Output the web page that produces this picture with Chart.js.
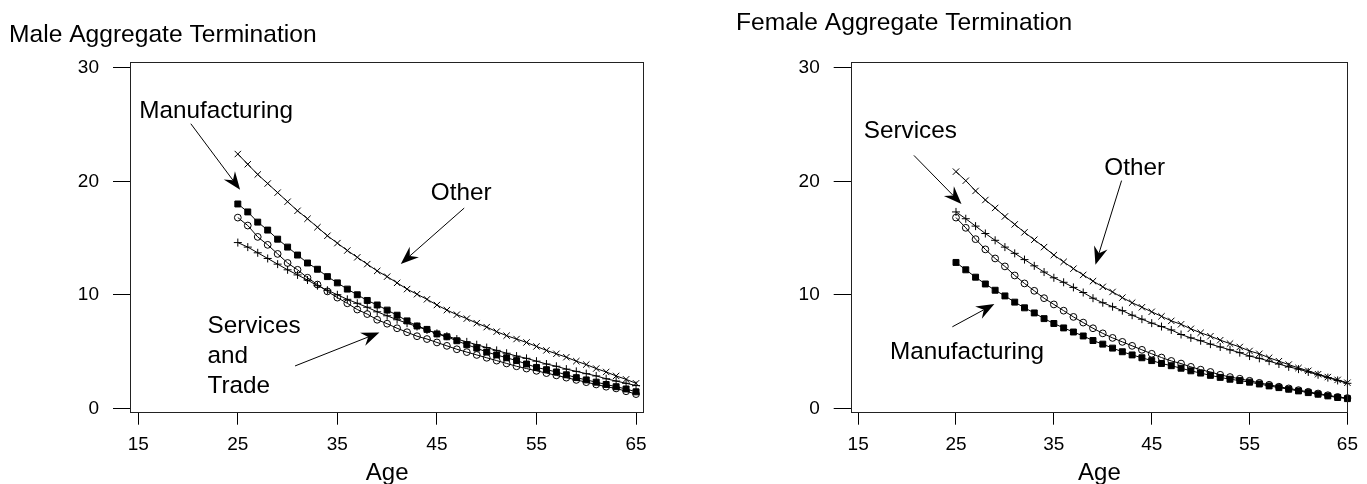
<!DOCTYPE html>
<html><head><meta charset="utf-8">
<script src="https://cdn.jsdelivr.net/npm/chart.js@4.4.1/dist/chart.umd.min.js"></script>
<style>
html,body{margin:0;padding:0;background:#fff;overflow:hidden}
#wrap{position:relative;width:1367px;height:484px;background:#fff}
canvas{position:absolute;top:0}
</style></head><body>
<div id="wrap">
<canvas id="male" width="683" height="484" style="left:0;width:683px;height:484px"></canvas>
<canvas id="female" width="684" height="484" style="left:683px;width:684px;height:484px"></canvas>
</div>
<script>
const FAMILY = '"Liberation Sans", Arial, Helvetica, sans-serif';

const ages = [25,26,27,28,29,30,31,32,33,34,35,36,37,38,39,40,41,42,43,44,45,46,47,48,49,50,51,52,53,54,55,56,57,58,59,60,61,62,63,64,65];
const xTickValues = [15,25,35,45,55,65];
const yTickValues = [0,10,20,30];

// Male
const maleOther = [22.4,21.5,20.6,19.8,19.0,18.2,17.4,16.7,15.95,15.2, 14.55,13.9,13.3,12.7,12.1,11.6,11.05,10.5,10.05,9.6, 9.1,8.65,8.25,7.9,7.5,7.15,6.75,6.4,6.1,5.8, 5.45,5.1,4.8,4.5,4.15,3.85,3.5,3.2,2.85,2.55, 2.2];
const maleManufacturing = [18.0,17.3,16.4,15.7,14.9,14.2,13.5,12.8,12.25,11.6, 11.05,10.5,10.0,9.5,9.1,8.65,8.2,7.7,7.25,6.95, 6.55,6.3,5.95,5.6,5.3,4.95,4.7,4.45,4.2,3.9, 3.6,3.4,3.2,2.95,2.7,2.5,2.3,2.1,1.9,1.7, 1.45];
const maleServices = [16.8,16.1,15.1,14.4,13.6,12.8,12.2,11.5,10.9,10.3, 9.75,9.25,8.7,8.3,7.8,7.45,7.05,6.7,6.35,6.1, 5.8,5.5,5.2,4.95,4.7,4.45,4.2,3.95,3.7,3.5, 3.3,3.1,2.9,2.7,2.5,2.3,2.1,1.9,1.75,1.5, 1.25];
const maleTrade = [14.6,14.2,13.7,13.2,12.7,12.2,11.75,11.3,10.8,10.4, 10.0,9.6,9.25,8.9,8.5,8.15,7.8,7.5,7.2,6.9, 6.6,6.35,6.1,5.85,5.6,5.35,5.1,4.85,4.6,4.4, 4.15,3.9,3.7,3.45,3.25,3.05,2.85,2.6,2.4,2.2, 2.0];

// Female
const femaleOther = [20.85,20.05,19.15,18.35,17.65,16.9,16.2,15.5,14.85,14.2, 13.5,12.9,12.3,11.75,11.2,10.7,10.25,9.75,9.3,8.9, 8.5,8.1,7.7,7.4,7.0,6.65,6.35,6.0,5.7,5.4, 5.05,4.8,4.45,4.15,3.85,3.55,3.3,3.0,2.75,2.5, 2.25];
const femaleServices = [17.3,16.7,16.05,15.4,14.8,14.2,13.65,13.1,12.55,12.0, 11.5,11.1,10.65,10.2,9.7,9.3,8.95,8.6,8.2,7.85, 7.5,7.2,6.9,6.5,6.2,5.95,5.65,5.4,5.15,4.9, 4.6,4.4,4.15,3.9,3.65,3.45,3.2,2.95,2.7,2.45, 2.2];
const femaleTrade = [16.8,15.9,14.9,14.0,13.2,12.5,11.7,11.0,10.35,9.7, 9.15,8.6,8.05,7.55,7.05,6.6,6.2,5.85,5.5,5.15, 4.8,4.47,4.17,3.94,3.65,3.4,3.2,2.95,2.75,2.6, 2.42,2.24,2.07,1.9,1.75,1.6,1.45,1.3,1.15,1.0, 0.9];
const femaleManufacturing = [12.85,12.2,11.55,10.95,10.4,9.9,9.35,8.85,8.4,7.9, 7.47,7.08,6.72,6.37,5.97,5.65,5.3,4.98,4.7,4.45, 4.2,3.95,3.75,3.53,3.3,3.1,2.9,2.72,2.56,2.44, 2.3,2.14,1.97,1.82,1.68,1.53,1.38,1.24,1.09,0.95, 0.85];

// Annotations (data coordinates)
const maleNotes = [
  {lines:['Manufacturing'], x:15.09, y:25.57, from:[20.28,25.07], to:[25.23,19.25]},
  {lines:['Other'], x:44.38, y:18.37, from:[47.74,17.64], to:[41.37,12.72]},
  {lines:['Services','and','Trade'], x:21.95, y:6.61, from:[30.75,3.73], to:[39.22,6.67]}
];
const femaleNotes = [
  {lines:['Services'], x:15.57, y:23.8, from:[20.7,22.28], to:[25.56,18.0]},
  {lines:['Other'], x:40.15, y:20.59, from:[41.92,20.06], to:[39.25,12.65]},
  {lines:['Manufacturing'], x:18.26, y:4.32, from:[24.63,7.18], to:[28.92,9.18]}
];

function pts(vals){ return ages.map((a,i)=>({x:a,y:vals[i]})); }

const STYLE = {
  other: {pointStyle:'crossRot', pointRadius:4.5, pointBackgroundColor:'rgba(0,0,0,0)'},
  plus:  {pointStyle:'cross', pointRadius:4, pointBackgroundColor:'rgba(0,0,0,0)'},
  square:{pointStyle:'rect', pointRadius:4.2, pointBackgroundColor:'#000'},
  circle:{pointStyle:'circle', pointRadius:3.4, pointBackgroundColor:'rgba(0,0,0,0)'}
};
function ds(vals, st){
  return Object.assign({data:pts(vals), borderColor:'#000', borderWidth:1, pointBorderColor:'#000',
    pointBorderWidth:1, tension:0, fill:false, pointHoverRadius:0, clip:6}, STYLE[st]);
}

function drawArrow(ctx, x1,y1,x2,y2){
  const a = Math.atan2(y2-y1, x2-x1);
  const L = 18, W = 7, N = 12;
  const c = Math.cos(a), s = Math.sin(a);
  const bx = x2 - L*c, by = y2 - L*s;
  const nx = x2 - N*c, ny = y2 - N*s;
  ctx.beginPath();
  ctx.moveTo(x1,y1); ctx.lineTo(nx,ny);
  ctx.lineWidth = 1; ctx.strokeStyle = '#000'; ctx.stroke();
  ctx.beginPath();
  ctx.moveTo(x2,y2);
  ctx.lineTo(bx - W*s, by + W*c);
  ctx.lineTo(nx, ny);
  ctx.lineTo(bx + W*s, by - W*c);
  ctx.closePath();
  ctx.fillStyle = '#000'; ctx.fill();
}

const notesPlugin = {
  id:'notes',
  afterDraw(chart){
    const ctx = chart.ctx, ca = chart.chartArea;
    const xs = chart.scales.x, ys = chart.scales.y;
    ctx.save();
    ctx.strokeStyle = '#222'; ctx.lineWidth = 1;
    const l = Math.round(ca.left)+0.5, t = Math.round(ca.top)+0.5, r = Math.round(ca.right)-0.5, b = Math.round(ca.bottom)-0.5;
    ctx.strokeRect(l, t, r-l, b-t);
    const notes = chart.options.plugins.notes.items;
    ctx.font = '24.3px ' + FAMILY;
    ctx.textAlign = 'left'; ctx.textBaseline = 'alphabetic';
    notes.forEach(n=>{
      const px = xs.getPixelForValue(n.x), py = ys.getPixelForValue(n.y);
      n.lines.forEach((ln,i)=>{ ctx.fillStyle='#000'; ctx.fillText(ln, px, py + i*30); });
      drawArrow(ctx, xs.getPixelForValue(n.from[0]), ys.getPixelForValue(n.from[1]),
                     xs.getPixelForValue(n.to[0]), ys.getPixelForValue(n.to[1]));
    });
    ctx.restore();
  }
};

function makeChart(id, title, datasets, notes, o){
  return new Chart(document.getElementById(id), {
    type:'line',
    data:{datasets},
    options:{
      responsive:false, animation:false, devicePixelRatio:1,
      events:[],
      layout:{padding:{left:o.padLeft, right:o.padRight, top:0, bottom:0}},
      plugins:{
        legend:{display:false}, tooltip:{enabled:false},
        title:{display:true, text:title, align:'start', color:'#000',
          font:{size:24.6, family:FAMILY, weight:'normal', lineHeight:1.2},
          padding:{top:o.titleTop, bottom:o.titleBottom}},
        notes:{items:notes}
      },
      scales:{
        x:{type:'linear', min:o.xmin, max:o.xmax,
          afterBuildTicks:s=>{ s.ticks = xTickValues.map(v=>({value:v})); },
          afterFit:s=>{ s.height = o.xHeight; },
          grid:{display:true, drawOnChartArea:false, drawTicks:true, tickLength:12, color:'#000', lineWidth:1},
          border:{display:false},
          ticks:{padding:9, color:'#000', autoSkip:false, maxRotation:0, font:{size:19, family:FAMILY}},
          title:{display:true, text:'Age', color:'#000', font:{size:24, family:FAMILY, lineHeight:1}, padding:{top:0, bottom:-1}}
        },
        y:{type:'linear', min:-0.39, max:30.49,
          afterBuildTicks:s=>{ s.ticks = yTickValues.map(v=>({value:v})); },
          afterFit:s=>{ s.width = o.yWidth; },
          grid:{display:true, drawOnChartArea:false, drawTicks:true, tickLength:17, color:'#000', lineWidth:1},
          border:{display:false},
          ticks:{padding:14, color:'#000', autoSkip:false, font:{size:19, family:FAMILY}}
        }
      }
    },
    plugins:[notesPlugin]
  });
}

makeChart('male', 'Male Aggregate Termination', [
  ds(maleOther,'other'), ds(maleManufacturing,'square'), ds(maleServices,'circle'), ds(maleTrade,'plus')
], maleNotes, {padLeft:9, padRight:38.7, titleTop:20.3, titleBottom:12.4, xmin:14.17, xmax:65.83, xHeight:71.3, yWidth:121});

makeChart('female', 'Female Aggregate Termination', [
  ds(femaleOther,'other'), ds(femaleServices,'plus'), ds(femaleTrade,'circle'), ds(femaleManufacturing,'square')
], femaleNotes, {padLeft:53, padRight:11, titleTop:8.5, titleBottom:24.2, xmin:14.24, xmax:65.07, xHeight:71.3, yWidth:114.7});
</script>
</body></html>
